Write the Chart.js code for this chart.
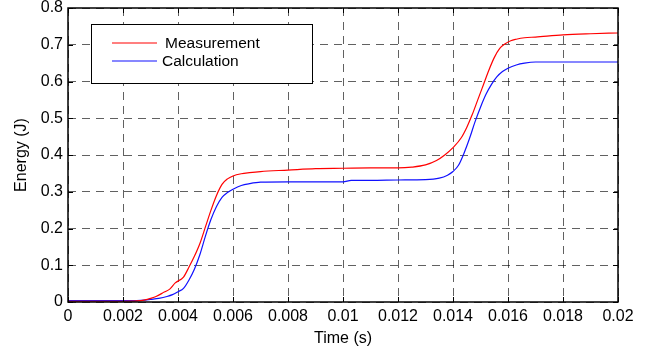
<!DOCTYPE html>
<html>
<head>
<meta charset="utf-8">
<script src="https://cdn.jsdelivr.net/npm/chart.js@4"></script>
<style>
  html, body { margin: 0; padding: 0; background: #fff; }
  #wrap { width: 657px; height: 351px; }
</style>
</head>
<body>
<div id="wrap"><canvas id="energyChart" width="657" height="351"></canvas></div>
<script>
// valores
const tMeas = [0, 0.001, 0.002, 0.0025, 0.0028, 0.003, 0.0032, 0.0035, 0.0037, 0.0039, 0.0042, 0.0044, 0.0046, 0.0048, 0.005, 0.0052, 0.0054, 0.0056, 0.0058, 0.006, 0.0063, 0.0066, 0.007, 0.008, 0.009, 0.01, 0.011, 0.012, 0.0125, 0.013, 0.0134, 0.0137, 0.014, 0.0143, 0.0145, 0.0147, 0.0149, 0.0151, 0.0153, 0.0155, 0.0157, 0.0159, 0.0161, 0.0163, 0.0166, 0.017, 0.018, 0.019, 0.02];
const eMeas = [0.002, 0.002, 0.002, 0.003, 0.006, 0.01, 0.015, 0.027, 0.035, 0.052, 0.068, 0.095, 0.125, 0.16, 0.205, 0.25, 0.29, 0.32, 0.335, 0.343, 0.349, 0.352, 0.355, 0.359, 0.363, 0.364, 0.365, 0.365, 0.367, 0.373, 0.385, 0.4, 0.42, 0.447, 0.475, 0.51, 0.55, 0.59, 0.63, 0.665, 0.69, 0.703, 0.711, 0.715, 0.719, 0.721, 0.727, 0.73, 0.732];

const tCalc = [0, 0.002, 0.0025, 0.0028, 0.003, 0.0033, 0.0036, 0.0038, 0.004, 0.0042, 0.0044, 0.0046, 0.0048, 0.005, 0.0052, 0.0054, 0.0056, 0.0058, 0.006, 0.0063, 0.0066, 0.007, 0.008, 0.009, 0.01, 0.0103, 0.011, 0.012, 0.013, 0.0135, 0.0138, 0.014, 0.0142, 0.0144, 0.0146, 0.0148, 0.015, 0.0152, 0.0154, 0.0156, 0.0158, 0.016, 0.0163, 0.0166, 0.017, 0.02];
const eCalc = [0.004, 0.004, 0.004, 0.005, 0.007, 0.01, 0.015, 0.02, 0.028, 0.037, 0.06, 0.09, 0.13, 0.18, 0.225, 0.26, 0.285, 0.298, 0.307, 0.317, 0.322, 0.326, 0.327, 0.327, 0.327, 0.331, 0.331, 0.332, 0.333, 0.337, 0.345, 0.355, 0.372, 0.405, 0.445, 0.49, 0.53, 0.565, 0.592, 0.613, 0.627, 0.636, 0.645, 0.65, 0.653, 0.653];

const xTickLabels = ['0', '0.002', '0.004', '0.006', '0.008', '0.01', '0.012', '0.014', '0.016', '0.018', '0.02'];
const yTickLabels = ['0', '0.1', '0.2', '0.3', '0.4', '0.5', '0.6', '0.7', '0.8'];

const fuente = 'Liberation Sans, Arial, Helvetica, sans-serif';

// marco negro, marcas hacia dentro y leyenda dentro del grafico
const marcoPlugin = {
    id: 'marco',
    afterDatasetsDraw(chart) {
        const { ctx, chartArea: a, scales } = chart;
        ctx.save();
        ctx.strokeStyle = '#000';
        ctx.lineWidth = 1;
        ctx.beginPath();
        scales.x.ticks.forEach(t => {
            const px = Math.round(scales.x.getPixelForValue(t.value)) + 0.5;
            ctx.moveTo(px, a.bottom); ctx.lineTo(px, a.bottom - 5);
            ctx.moveTo(px, a.top); ctx.lineTo(px, a.top + 5);
        });
        scales.y.ticks.forEach(t => {
            const py = Math.round(scales.y.getPixelForValue(t.value)) + 0.5;
            ctx.moveTo(a.left, py); ctx.lineTo(a.left + 5, py);
            ctx.moveTo(a.right, py); ctx.lineTo(a.right - 5, py);
        });
        ctx.stroke();
        ctx.lineWidth = 1.5;
        ctx.strokeRect(a.left, a.top, a.right - a.left, a.bottom - a.top);

        // leyenda
        const lx = 91, ly = 24, lw = 221, lh = 59;
        ctx.fillStyle = '#fff';
        ctx.fillRect(lx, ly, lw, lh);
        ctx.lineWidth = 1;
        ctx.strokeRect(lx + 0.5, ly + 0.5, lw, lh);
        ctx.font = '15.5px ' + fuente;
        ctx.textBaseline = 'middle';
        chart.data.datasets.forEach((ds, i) => {
            const y = ly + 19 + i * 18;
            ctx.strokeStyle = ds.borderColor;
            ctx.lineWidth = 1.2;
            ctx.beginPath();
            ctx.moveTo(112, y); ctx.lineTo(157, y);
            ctx.stroke();
            ctx.fillStyle = '#000';
            ctx.fillText(ds.label, i === 0 ? 165 : 162, y + 1);
        });
        ctx.restore();
    }
};

const ctx = document.getElementById('energyChart').getContext('2d');
new Chart(ctx, {
    type: 'line',
    data: {
        datasets: [{
            label: 'Measurement',
            data: tMeas.map((t, i) => ({ x: t, y: eMeas[i] })),
            borderColor: '#ff0000',
            borderWidth: 1.2,
            pointRadius: 0,
            cubicInterpolationMode: 'monotone'
        }, {
            label: 'Calculation',
            data: tCalc.map((t, i) => ({ x: t, y: eCalc[i] })),
            borderColor: '#1010ff',
            borderWidth: 1.2,
            pointRadius: 0,
            cubicInterpolationMode: 'monotone'
        }]
    },
    options: {
        responsive: false,
        animation: false,
        layout: { padding: { left: 0, right: 39, top: 8, bottom: 0 } },
        plugins: {
            legend: { display: false },
            tooltip: { enabled: false }
        },
        scales: {
            x: {
                type: 'linear',
                min: 0,
                max: 0.02,
                ticks: {
                    stepSize: 0.002,
                    padding: 5,
                    color: '#000',
                    font: { family: fuente, size: 16 },
                    maxRotation: 0,
                    autoSkip: false,
                    callback: (v, i) => xTickLabels[i]
                },
                grid: { color: 'rgba(0,0,0,0.62)', lineWidth: 1, drawTicks: false },
                border: { display: false, dash: [8, 6] },
                title: { display: true, text: 'Time (s)', color: '#000', font: { family: fuente, size: 16 }, padding: { top: 0, bottom: 3 } },
                afterFit: s => { s.height = 49; s.paddingLeft = 0; s.paddingRight = 0; }
            },
            y: {
                min: 0,
                max: 0.8,
                ticks: {
                    stepSize: 0.1,
                    padding: 5,
                    color: '#000',
                    font: { family: fuente, size: 16 },
                    callback: (v, i) => yTickLabels[i]
                },
                grid: { color: 'rgba(0,0,0,0.62)', lineWidth: 1, drawTicks: false },
                border: { display: false, dash: [8, 6] },
                title: { display: true, text: 'Energy (J)', color: '#000', font: { family: fuente, size: 16 }, padding: { top: 12, bottom: 0 } },
                afterFit: s => { s.width = 68; s.paddingTop = 0; s.paddingBottom = 0; }
            }
        }
    },
    plugins: [marcoPlugin]
});
</script>
</body>
</html>
